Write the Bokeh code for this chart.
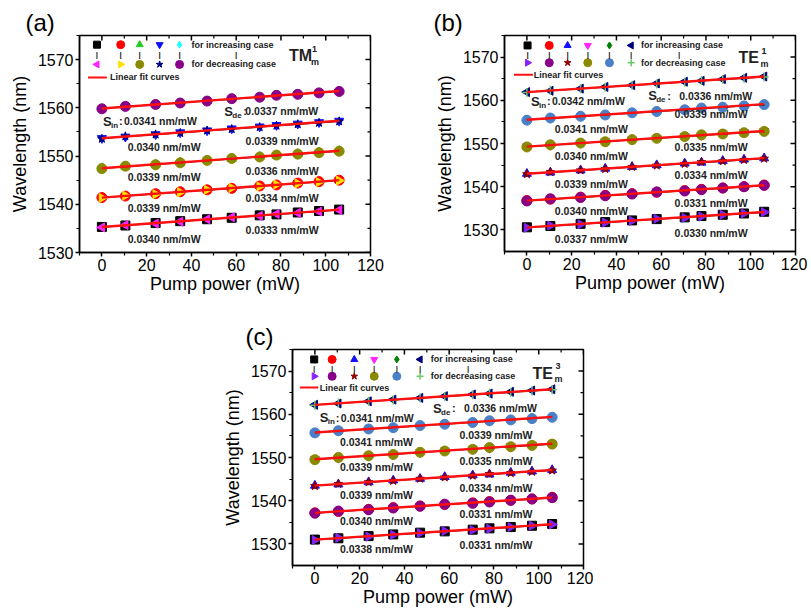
import numpy as np
from bokeh.plotting import figure
from bokeh.models import Range1d, FixedTicker, Spacer
from bokeh.layouts import row, column
from bokeh.core.properties import value
from bokeh.embed import file_html
from bokeh.resources import INLINE

FONT = "Liberation Sans"

# ---------------- data ----------------
pump_power = [0, 10.5, 24, 35, 47, 58, 70.5, 78, 87.5, 97, 106]

# (a) TM^1_m  -- series listed from bottom to top
tm1_inc = [
    [1535.3, 1535.6, 1536.1, 1536.5, 1536.9, 1537.2, 1537.7, 1537.9, 1538.3, 1538.6, 1538.9],
    [1541.4, 1541.7, 1542.2, 1542.6, 1543.0, 1543.3, 1543.8, 1544.0, 1544.4, 1544.7, 1545.0],
    [1547.5, 1547.8, 1548.3, 1548.7, 1549.1, 1549.4, 1549.9, 1550.1, 1550.5, 1550.8, 1551.1],
    [1553.7, 1554.0, 1554.5, 1554.9, 1555.3, 1555.7, 1556.1, 1556.4, 1556.7, 1557.0, 1557.3],
    [1559.9, 1560.2, 1560.7, 1561.1, 1561.5, 1561.8, 1562.3, 1562.5, 1562.9, 1563.2, 1563.5],
]
tm1_dec = [
    [1535.2, 1535.7, 1536.0, 1536.4, 1536.9, 1537.3, 1537.6, 1538.0, 1538.2, 1538.5, 1538.8],
    [1541.3, 1541.8, 1542.1, 1542.5, 1543.0, 1543.4, 1543.7, 1544.1, 1544.3, 1544.6, 1544.9],
    [1547.4, 1547.9, 1548.2, 1548.6, 1549.1, 1549.5, 1549.8, 1550.2, 1550.4, 1550.7, 1551.0],
    [1553.6, 1554.1, 1554.5, 1554.8, 1555.3, 1555.6, 1556.0, 1556.3, 1556.6, 1556.9, 1557.2],
    [1559.8, 1560.3, 1560.7, 1561.0, 1561.4, 1561.9, 1562.2, 1562.6, 1562.8, 1563.1, 1563.4],
]
tm1_s_in = ["0.0340", "0.0339", "0.0339", "0.0340", "0.0341"]
tm1_s_de = ["0.0333", "0.0334", "0.0336", "0.0339", "0.0337"]

# (b) TE^1_m
te1_inc = [
    [1530.6, 1530.9, 1531.4, 1531.8, 1532.2, 1532.5, 1532.9, 1533.2, 1533.5, 1533.8, 1534.2],
    [1536.8, 1537.1, 1537.6, 1538.0, 1538.4, 1538.7, 1539.1, 1539.4, 1539.7, 1540.0, 1540.4],
    [1543.0, 1543.3, 1543.8, 1544.2, 1544.6, 1545.0, 1545.4, 1545.6, 1546.0, 1546.3, 1546.6],
    [1549.3, 1549.6, 1550.1, 1550.5, 1550.9, 1551.3, 1551.7, 1551.9, 1552.3, 1552.6, 1552.9],
    [1555.5, 1555.8, 1556.3, 1556.7, 1557.1, 1557.5, 1557.9, 1558.1, 1558.5, 1558.8, 1559.1],
    [1561.9, 1562.2, 1562.7, 1563.1, 1563.5, 1563.9, 1564.3, 1564.5, 1564.9, 1565.2, 1565.5],
]
te1_dec = [
    [1530.5, 1531.0, 1531.3, 1531.7, 1532.1, 1532.6, 1532.8, 1533.1, 1533.5, 1533.8, 1534.1],
    [1536.7, 1537.2, 1537.5, 1537.9, 1538.3, 1538.8, 1539.0, 1539.3, 1539.7, 1540.0, 1540.3],
    [1542.9, 1543.4, 1543.8, 1544.1, 1544.6, 1544.9, 1545.3, 1545.7, 1545.9, 1546.2, 1546.5],
    [1549.2, 1549.7, 1550.1, 1550.4, 1550.9, 1551.2, 1551.6, 1552.0, 1552.2, 1552.5, 1552.8],
    [1555.4, 1555.9, 1556.3, 1556.6, 1557.1, 1557.4, 1557.8, 1558.2, 1558.4, 1558.7, 1559.0],
    [1561.8, 1562.3, 1562.7, 1563.0, 1563.5, 1563.8, 1564.2, 1564.6, 1564.8, 1565.1, 1565.4],
]
te1_s_in = ["0.0337", "0.0340", "0.0339", "0.0340", "0.0341", "0.0342"]
te1_s_de = ["0.0330", "0.0331", "0.0334", "0.0335", "0.0339", "0.0336"]

# (c) TE^3_m
te3_inc = [
    [1531.0, 1531.3, 1531.8, 1532.2, 1532.6, 1532.9, 1533.3, 1533.6, 1533.9, 1534.2, 1534.6],
    [1537.2, 1537.5, 1538.0, 1538.4, 1538.8, 1539.1, 1539.5, 1539.8, 1540.1, 1540.4, 1540.8],
    [1543.5, 1543.8, 1544.3, 1544.7, 1545.1, 1545.5, 1545.9, 1546.1, 1546.5, 1546.8, 1547.1],
    [1549.6, 1549.9, 1550.4, 1550.8, 1551.2, 1551.6, 1552.0, 1552.2, 1552.6, 1552.9, 1553.2],
    [1555.8, 1556.1, 1556.6, 1557.0, 1557.4, 1557.8, 1558.2, 1558.4, 1558.8, 1559.1, 1559.4],
    [1562.2, 1562.5, 1563.0, 1563.4, 1563.8, 1564.2, 1564.6, 1564.8, 1565.2, 1565.5, 1565.8],
]
te3_dec = [
    [1530.9, 1531.4, 1531.7, 1532.1, 1532.5, 1533.0, 1533.2, 1533.5, 1533.9, 1534.2, 1534.5],
    [1537.1, 1537.6, 1537.9, 1538.3, 1538.7, 1539.2, 1539.4, 1539.7, 1540.1, 1540.4, 1540.7],
    [1543.4, 1543.9, 1544.3, 1544.6, 1545.1, 1545.4, 1545.8, 1546.2, 1546.4, 1546.7, 1547.0],
    [1549.5, 1550.0, 1550.4, 1550.7, 1551.2, 1551.5, 1551.9, 1552.3, 1552.5, 1552.8, 1553.1],
    [1555.7, 1556.2, 1556.6, 1556.9, 1557.4, 1557.7, 1558.1, 1558.5, 1558.7, 1559.0, 1559.3],
    [1562.1, 1562.6, 1563.0, 1563.3, 1563.8, 1564.1, 1564.5, 1564.9, 1565.1, 1565.4, 1565.7],
]
te3_s_in = ["0.0338", "0.0340", "0.0339", "0.0339", "0.0341", "0.0341"]
te3_s_de = ["0.0331", "0.0331", "0.0334", "0.0335", "0.0339", "0.0336"]

x_ticks = [0, 20, 40, 60, 80, 100, 120]
y_ticks = [1530, 1540, 1550, 1560, 1570]

# ---------------- styles ----------------
L = np.pi / 2
# (marker, color, angle) for increasing and decreasing case, bottom -> top
style_a_inc = [("square", "#000000", 0), ("circle", "#ff0000", 0), ("triangle", "#22cc22", 0),
               ("inverted_triangle", "#1010ff", 0), ("diamond", "#22ffff", 0)]
style_a_dec = [("triangle", "#ff22ff", L), ("triangle", "#ffe000", -L), ("circle", "#8a8a00", 0),
               ("star", "#000080", 0), ("circle", "#880088", 0)]
style_b_inc = [("square", "#000000", 0), ("circle", "#ff0000", 0), ("triangle", "#1010ff", 0),
               ("inverted_triangle", "#ff22ff", 0), ("diamond", "#008000", 0), ("triangle", "#000080", L)]
style_b_dec = [("triangle", "#8822ff", -L), ("circle", "#880088", 0), ("star", "#8b0000", 0),
               ("circle", "#8a8a00", 0), ("circle", "#4a80c8", 0), ("cross", "#66cc66", 0)]

TXT = "#222222"


def txt(p, x, y, s, size, bold=True, color=TXT, align="left", xo=0, yo=0):
    p.text(x=[x], y=[y], text=[s], text_font=value(FONT), text_font_size=f"{size}px",
           text_font_style="bold" if bold else "normal", text_color=color,
           text_align=align, text_baseline="middle", x_offset=xo, y_offset=yo)


def make_panel(inc, dec, s_in, s_de, st_inc, st_dec, ylo, fh, borders, title, title_off,
               mode, sup, mode_pos, left_pos, right_pos, sin_pos, sde_pos, leg, de_gap):
    bl, br, bt, bb = borders
    p = figure(frame_width=291, frame_height=fh, x_range=Range1d(-10, 120),
               y_range=Range1d(ylo, 1575), output_backend="svg", toolbar_location=None,
               min_border_left=bl, min_border_right=br, min_border_top=bt, min_border_bottom=bb)
    p.xgrid.visible = False
    p.ygrid.visible = False
    p.outline_line_color = "black"
    p.outline_line_width = 1.5
    p.background_fill_color = "white"

    p.title.text = title
    p.title.align = "left"
    p.title.offset = title_off
    p.title.text_font = FONT
    p.title.text_font_size = "24px"
    p.title.text_font_style = "normal"
    p.title.text_color = "black"
    p.title.standoff = 0

    minor_x = [-10, 10, 30, 50, 70, 90, 110]
    minor_y = [v for v in [1525, 1535, 1545, 1555, 1565, 1575] if v > ylo]
    xt = FixedTicker(ticks=x_ticks, minor_ticks=minor_x)
    yt = FixedTicker(ticks=y_ticks, minor_ticks=minor_y)

    for ax in (p.xaxis[0], p.yaxis[0]):
        ax.axis_line_width = 1.5
        ax.major_tick_line_width = 1.5
        ax.minor_tick_line_width = 1.2
        ax.major_tick_out = 4
        ax.major_tick_in = 0
        ax.minor_tick_out = 3
        ax.minor_tick_in = 0
        ax.major_label_text_font = FONT
        ax.major_label_text_font_size = "16px"
        ax.major_label_text_color = "black"
        ax.axis_label_text_font = FONT
        ax.axis_label_text_font_size = "18px"
        ax.axis_label_text_font_style = "normal"
        ax.axis_label_text_color = "black"
        ax.major_label_standoff = 2
    p.xaxis[0].ticker = xt
    p.yaxis[0].ticker = yt
    p.xaxis[0].axis_label = "Pump power (mW)"
    p.yaxis[0].axis_label = "Wavelength (nm)"
    p.xaxis[0].axis_label_standoff = 0
    p.yaxis[0].axis_label_standoff = 5

    # mirror ticks on the top and right edges, pointing inward (outer half clipped by the frame)
    p.scatter(x_ticks, [1575] * len(x_ticks), marker="dash", angle=L, size=10,
              line_color="black", line_width=1.5)
    p.scatter(minor_x, [1575] * len(minor_x), marker="dash", angle=L, size=6,
              line_color="black", line_width=1.2)
    p.scatter([120] * len(y_ticks), y_ticks, marker="dash", size=10,
              line_color="black", line_width=1.5)
    p.scatter([120] * len(minor_y), minor_y, marker="dash", size=6,
              line_color="black", line_width=1.2)

    xs = np.array(pump_power)
    for i in range(len(inc)):
        m, c, a = st_inc[i]
        p.scatter(xs, inc[i], marker=m, size=9 if m != "circle" else 10, angle=a,
                  fill_color=c, line_color=c)
        m, c, a = st_dec[i]
        p.scatter(xs, dec[i], marker=m, size=9 if m != "circle" else 10, angle=a,
                  fill_color=c, line_color=c, line_width=1.5 if m == "cross" else 1)
        kd = np.polyfit(xs, dec[i], 1)
        ki = np.polyfit(xs, inc[i], 1)
        xf = np.array([xs.min(), xs.max()])
        p.line(xf, np.polyval(kd, xf), line_color="black", line_width=1.3)
        p.line(xf, np.polyval(ki, xf), line_color="#ff1010", line_width=2.4)

    # slope labels
    n = len(inc)
    for i in range(n - 1):
        txt(p, left_pos[0], left_pos[1][i], s_in[i] + " nm/mW", 10.5)
        txt(p, right_pos[0], right_pos[1][i], s_de[i] + " nm/mW", 10.5)
    txt(p, sin_pos[0], sin_pos[1], "S", 13)
    txt(p, sin_pos[0], sin_pos[1], "in", 8, xo=8, yo=4)
    txt(p, sin_pos[0], sin_pos[1], ":", 11, xo=16)
    txt(p, sin_pos[0], sin_pos[1], s_in[-1] + " nm/mW", 10.5, xo=21)
    txt(p, sde_pos[0], sde_pos[1], "S", 13)
    txt(p, sde_pos[0], sde_pos[1], "de", 8, xo=8, yo=4)
    txt(p, sde_pos[0], sde_pos[1], ":", 11, xo=19)
    txt(p, sde_pos[0], sde_pos[1], s_de[-1] + " nm/mW", 10.5, xo=19 + de_gap)

    # mode label
    txt(p, mode_pos[0], mode_pos[1], mode, 16)
    txt(p, mode_pos[0], mode_pos[1], sup, 9, xo=23, yo=-7)
    txt(p, mode_pos[0], mode_pos[1], "m", 9, xo=22, yo=6)

    # legend
    mx, ry, tx, midx, (lx0, lx1, ly, ltx) = leg
    for j in range(len(mx)):
        m, c, a = st_inc[j]
        p.scatter([mx[j]], [ry[0]], marker=m, size=7 if m != "circle" else 8, angle=a, fill_color=c, line_color=c)
        m, c, a = st_dec[j]
        p.scatter([mx[j]], [ry[2]], marker=m, size=7 if m != "circle" else 8, angle=a, fill_color=c, line_color=c,
                  line_width=1.5 if m == "cross" else 1)
        txt(p, mx[j], ry[1], "|", 8, align="center")
    txt(p, tx, ry[0], "for increasing case", 9)
    txt(p, midx, ry[1], "|", 8, align="center")
    txt(p, tx, ry[2], "for decreasing case", 9)
    p.line([lx0, lx1], [ly, ly], line_color="#ff1010", line_width=2)
    txt(p, ltx, ly, "Linear fit curves", 9)
    return p


pa = make_panel(tm1_inc, tm1_dec, tm1_s_in, tm1_s_de, style_a_inc, style_a_dec, 1530, 217,
                (79, 44, 35, 46), "(a)", -54, "TM", "1", (83.6, 1570.8),
                (11.5, [1532.8, 1539.3, 1545.6, 1551.8]), (64.2, [1534.6, 1541.2, 1547.0, 1553.1]),
                (0.5, 1557.2), (54.7, 1559.3),
                ([-2.2, 8.4, 16.9, 25.8, 34.7], [1573.1, 1571.0, 1569.0], 40, 60, (-6.2, 2.2, 1566.3, 3.6)),
                2)

pb = make_panel(te1_inc, te1_dec, te1_s_in, te1_s_de, style_b_inc, style_b_dec, 1525, 216,
                (90, 12, 33, 49), "(b)", -71, "TE", "1", (94.5, 1569.8),
                (12.5, [1528.0, 1534.4, 1540.6, 1547.2, 1553.3]), (66.0, [1529.2, 1536.3, 1542.6, 1549.1, 1556.8]),
                (1.8, 1559.8), (54.2, 1561.0),
                ([0.3, 10, 18.2, 27.2, 36.9, 46.6], [1572.7, 1570.6, 1568.7], 51, 68, (-5.8, 2.7, 1565.9, 3.1)),
                12)

pc = make_panel(te3_inc, te3_dec, te3_s_in, te3_s_de, style_b_inc, style_b_dec, 1525, 216,
                (92, 10, 51, 46), "(c)", -47, "TE", "3", (97.2, 1569.5),
                (11.2, [1528.8, 1535.4, 1541.4, 1547.8, 1553.6]), (64.6, [1529.8, 1536.9, 1543.0, 1549.1, 1555.2]),
                (2.2, 1559.2), (52.8, 1561.4),
                ([-0.3, 7.7, 17.6, 26.5, 36.6, 47.0], [1572.7, 1570.6, 1568.8], 51.8, 68.5, (-6.7, 1.5, 1566.2, 2.2)),
                12)

layout = column(row(pa, pb), row(Spacer(width=200, height=10), pc))
open("out.html", "w").write(file_html(layout, INLINE))
